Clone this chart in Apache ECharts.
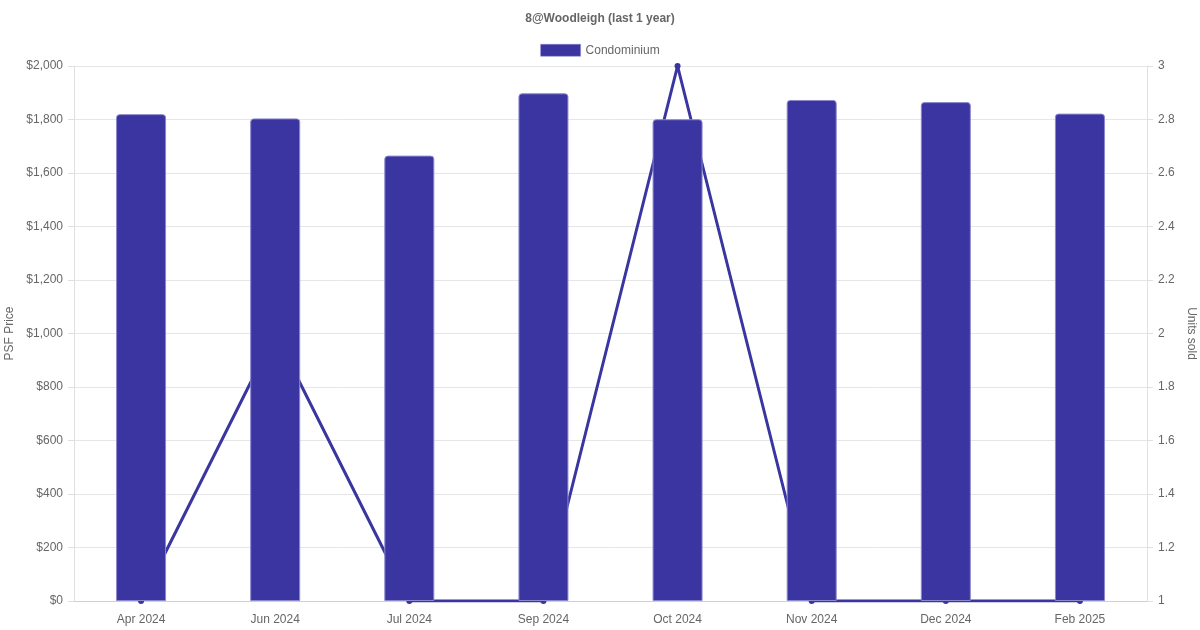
<!DOCTYPE html>
<html>
<head>
<meta charset="utf-8">
<script src="https://cdn.jsdelivr.net/npm/echarts@6/dist/echarts.min.js"></script>
<style>html,body{margin:0;padding:0;background:#fff}#c{width:1200px;height:630px}</style>
</head>
<body>
<div id="c"></div>
<script>
const categories = ['Apr 2024','Jun 2024','Jul 2024','Sep 2024','Oct 2024','Nov 2024','Dec 2024','Feb 2025'];
const psfPrice = [1820, 1804, 1665, 1898, 1801, 1873, 1865, 1822];
const unitsSold = [1, 2, 1, 1, 3, 1, 1, 1];

const chart = echarts.init(document.getElementById('c'), null, {renderer:'canvas'});
const font = '"Liberation Sans", Arial, Helvetica, sans-serif';
const col = '#3a35a0';
chart.setOption({
  animation:false,
  textStyle:{fontFamily:font},
  title:{text:'8@Woodleigh (last 1 year)', left:'center', top:8,
    textStyle:{fontSize:12, fontWeight:'bold', color:'#666', fontFamily:font}},
  legend:{data:['Condominium'], top:39, left:'center', itemWidth:40, itemHeight:12, itemGap:6,
    icon:'rect', itemStyle:{color:col, borderColor:'#8c89cc', borderWidth:0.5},
    textStyle:{fontSize:12, color:'#666', fontFamily:font}},
  grid:{left:74, right:53, top:66, bottom:29, containLabel:false, outerBoundsMode:'none'},
  xAxis:{type:'category', data:categories,
    axisLine:{lineStyle:{color:'#d0d0d0'}},
    axisTick:{show:false},
    axisLabel:{color:'#666', fontSize:12, margin:13, fontFamily:font},
    splitLine:{show:false}},
  yAxis:[
    {type:'value', min:0, max:2000, interval:200, name:'PSF Price', nameLocation:'middle', nameGap:52,
      nameTextStyle:{color:'#666', fontSize:12, fontFamily:font},
      axisLine:{show:true, lineStyle:{color:'#e0e0e0'}},
      axisTick:{show:true, length:6, lineStyle:{color:'#e0e0e0'}},
      axisLabel:{color:'#666', fontSize:12, margin:11, fontFamily:font,
        formatter:v=>'$'+v.toLocaleString('en-US')},
      splitLine:{lineStyle:{color:'#e6e6e6'}}},
    {type:'value', min:1, max:3, interval:0.2, name:'Units sold', nameLocation:'middle', nameGap:34, nameRotate:-90,
      nameTextStyle:{color:'#666', fontSize:12, fontFamily:font},
      axisLine:{show:true, lineStyle:{color:'#e0e0e0'}},
      axisTick:{show:true, length:6, lineStyle:{color:'#e0e0e0'}},
      axisLabel:{color:'#666', fontSize:12, margin:11, fontFamily:font,
        formatter:v=>String(Math.round(v*10)/10)},
      splitLine:{show:false}}
  ],
  series:[
    {name:'Condominium', type:'bar', data:psfPrice, yAxisIndex:0, barWidth:50, z:3,
      itemStyle:{color:col, borderColor:'#8c89cc', borderWidth:1, borderRadius:[3,3,0,0]}},
    {name:'Units', type:'line', data:unitsSold, yAxisIndex:1, z:2,
      symbol:'circle', symbolSize:6, showSymbol:true,
      lineStyle:{color:col, width:3}, itemStyle:{color:col}}
  ]
});
</script>
</body>
</html>
